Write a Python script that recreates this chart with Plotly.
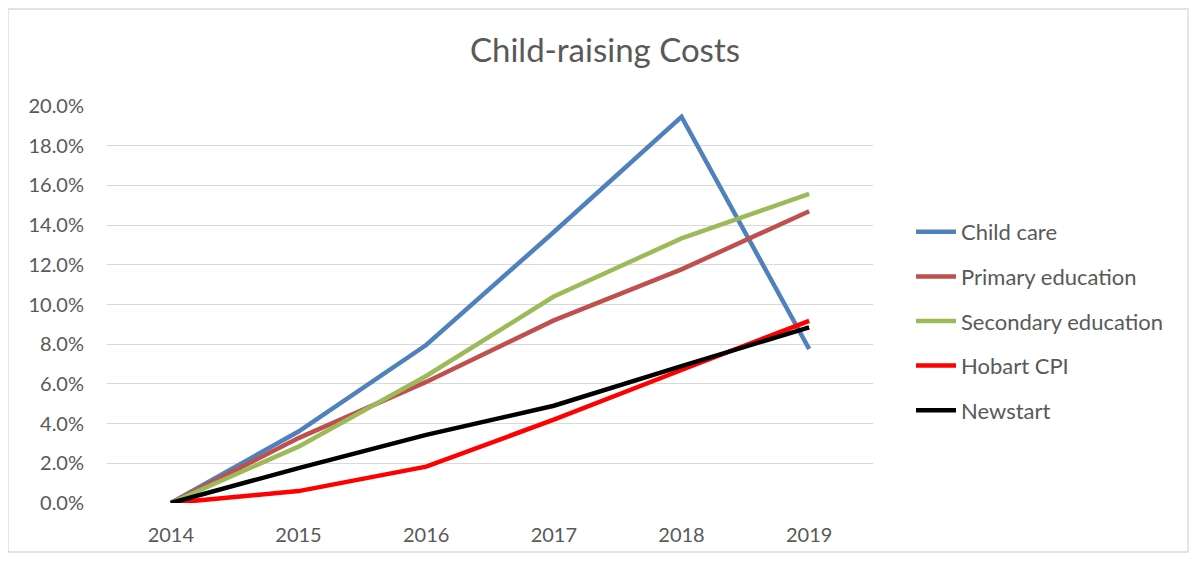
import plotly.graph_objects as go

years = [2014, 2015, 2016, 2017, 2018, 2019]
series_names = ["Child care", "Primary education", "Secondary education", "Hobart CPI", "Newstart"]
child_care = [0.0, 0.036, 0.0796, 0.1365, 0.1946, 0.0776]
primary_education = [0.0, 0.0327, 0.061, 0.092, 0.1177, 0.147]
secondary_education = [0.0, 0.0284, 0.064, 0.104, 0.1333, 0.1557]
hobart_cpi = [0.0, 0.006, 0.0183, 0.042, 0.067, 0.0918]
newstart = [0.0, 0.0176, 0.0343, 0.049, 0.069, 0.0885]
y_ticks = [0.0, 0.02, 0.04, 0.06, 0.08, 0.10, 0.12, 0.14, 0.16, 0.18, 0.20]

colors = ["#4f81bd", "#c0504d", "#9bbb59", "#ff0000", "#000000"]
values = [child_care, primary_education, secondary_education, hobart_cpi, newstart]

font_family = "Lato, 'Open Sans', sans-serif"
grey = "#595959"

# page body has an 8px margin, so the figure itself starts at (8, 8)
W, H = 1181, 545
L, T, PW, PH = 99, 98, 766, 397

fig = go.Figure()
for name, vals, col in zip(series_names, values, colors):
    fig.add_trace(go.Scatter(x=years, y=vals, name=name, mode="lines", legendgroup=name,
                             line=dict(color=col, width=4.5)))

fig.update_layout(
    width=W, height=H,
    margin=dict(l=L, r=W - L - PW, t=T, b=H - T - PH, pad=0, autoexpand=False),
    paper_bgcolor="white", plot_bgcolor="white",
    font=dict(family=font_family, color=grey),
    title=dict(text="Child-raising Costs", x=(605 - 8) / W, xanchor="center",
               y=1 - (50 - 8) / H, yanchor="middle",
               font=dict(size=33, color=grey, family=font_family)),
    legend=dict(x=(911 - 107) / PW, xanchor="left", y=(503 - 211) / PH, yanchor="top",
                font=dict(size=22, color=grey), tracegroupgap=13,
                itemwidth=40, bgcolor="rgba(0,0,0,0)"),
    showlegend=True,
)

fig.update_xaxes(range=[2013.5, 2019.5], tickvals=years, ticktext=[str(y) for y in years],
                 showgrid=False, zeroline=False, showline=False, automargin=False,
                 tickfont=dict(size=20, color=grey), ticks="", ticklabelstandoff=18)
fig.update_yaxes(range=[0, 0.2], tickvals=y_ticks, tickformat=".1%",
                 showgrid=True, gridcolor="#d9d9d9", gridwidth=1.3, zeroline=False,
                 showline=False, automargin=False, tickfont=dict(size=20, color=grey),
                 ticks="", ticklabelstandoff=22)

# chart border
fig.add_shape(type="rect", xref="paper", yref="paper",
              x0=-L / PW, x1=(W - 1 - L) / PW,
              y0=-(H - T - PH - 1) / PH, y1=(PH + T - 1) / PH,
              line=dict(color="#d9d9d9", width=1.3), layer="below")

fig.write_html("out.html")
